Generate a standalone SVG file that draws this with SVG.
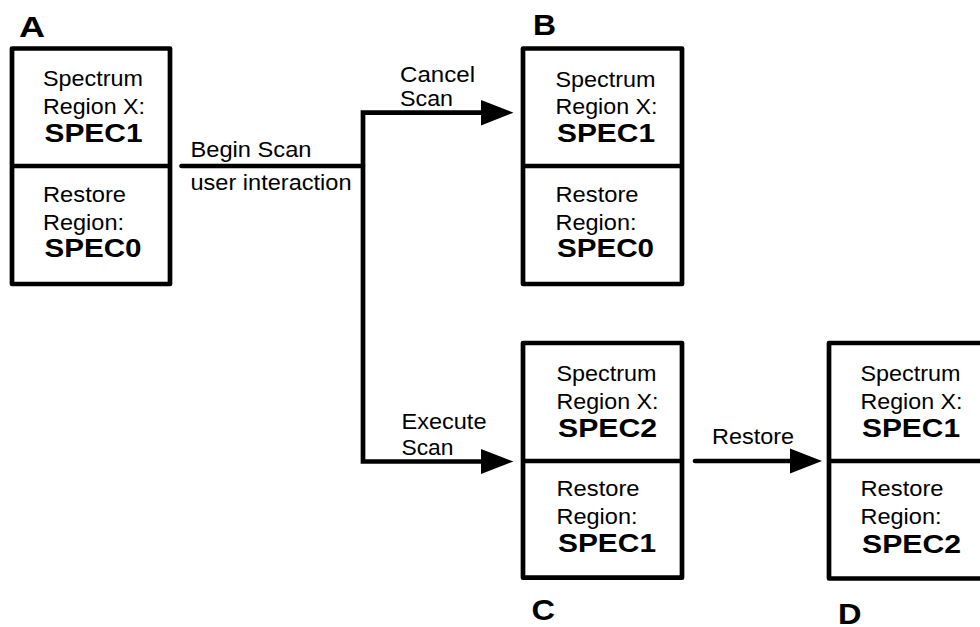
<svg xmlns="http://www.w3.org/2000/svg" width="980" height="627" viewBox="0 0 980 627">
<style>
.box{fill:#fff;stroke:#000;stroke-width:4.7;stroke-linejoin:round}
.div{stroke:#000;stroke-width:4.7}
.t{font-family:"Liberation Sans",Arial,Helvetica,sans-serif;font-size:22px;fill:#000}
.b{font-family:"Liberation Sans",Arial,Helvetica,sans-serif;font-size:25.5px;font-weight:bold;fill:#000}
.lbl{font-family:"Liberation Sans",Arial,Helvetica,sans-serif;font-size:30px;font-weight:bold;fill:#000}
.ln{fill:none;stroke:#000;stroke-width:4.7;stroke-linejoin:miter}
.ah{fill:#000}
</style>
<rect width="980" height="627" fill="#fff"/>
<g id="connectors">
<path class="ln" d="M181.5,166 H363" stroke-linecap="round"/>
<path class="ln" d="M484,112.7 H363 V461.5 H484"/>
<polygon class="ah" points="481,100 513.5,112.7 481,125.4"/>
<polygon class="ah" points="481,449 513.5,461.5 481,474"/>
<path class="ln" d="M695,461 H792" stroke-linecap="round"/>
<polygon class="ah" points="790,448.5 822,461 790,473.5"/>
<text class="t" x="190.5" y="157" textLength="121" lengthAdjust="spacingAndGlyphs">Begin Scan</text>
<text class="t" x="190.5" y="190" textLength="161" lengthAdjust="spacingAndGlyphs">user interaction</text>
<text class="t" x="400" y="82" textLength="75" lengthAdjust="spacingAndGlyphs">Cancel</text>
<text class="t" x="400" y="106" textLength="53" lengthAdjust="spacingAndGlyphs">Scan</text>
<text class="t" x="401.5" y="429" textLength="85" lengthAdjust="spacingAndGlyphs">Execute</text>
<text class="t" x="401.5" y="455" textLength="52" lengthAdjust="spacingAndGlyphs">Scan</text>
<text class="t" x="712" y="444" textLength="82" lengthAdjust="spacingAndGlyphs">Restore</text>
</g>
<g id="nodeA">
<rect class="box" x="12" y="48.5" width="158" height="235.5"/>
<line class="div" x1="12" y1="166" x2="170" y2="166"/>
<text class="lbl" x="19" y="36.5" textLength="26" lengthAdjust="spacingAndGlyphs">A</text>
<text class="t" x="43" y="86" textLength="100" lengthAdjust="spacingAndGlyphs">Spectrum</text>
<text class="t" x="43" y="113.5" textLength="102" lengthAdjust="spacingAndGlyphs">Region X:</text>
<text class="b" x="44.5" y="141.5" textLength="98" lengthAdjust="spacingAndGlyphs">SPEC1</text>
<text class="t" x="43" y="201.5" textLength="83" lengthAdjust="spacingAndGlyphs">Restore</text>
<text class="t" x="43" y="229.5" textLength="81" lengthAdjust="spacingAndGlyphs">Region:</text>
<text class="b" x="44.5" y="257" textLength="97" lengthAdjust="spacingAndGlyphs">SPEC0</text>
</g>
<g id="nodeB">
<rect class="box" x="523" y="48.5" width="159" height="235.5"/>
<line class="div" x1="523" y1="166" x2="682" y2="166"/>
<text class="lbl" x="533" y="35" textLength="23" lengthAdjust="spacingAndGlyphs">B</text>
<text class="t" x="555.5" y="86.5" textLength="100" lengthAdjust="spacingAndGlyphs">Spectrum</text>
<text class="t" x="555.5" y="114" textLength="102" lengthAdjust="spacingAndGlyphs">Region X:</text>
<text class="b" x="557" y="142" textLength="98" lengthAdjust="spacingAndGlyphs">SPEC1</text>
<text class="t" x="555.5" y="201.5" textLength="83" lengthAdjust="spacingAndGlyphs">Restore</text>
<text class="t" x="555.5" y="229.5" textLength="81" lengthAdjust="spacingAndGlyphs">Region:</text>
<text class="b" x="557" y="257" textLength="97" lengthAdjust="spacingAndGlyphs">SPEC0</text>
</g>
<g id="nodeC">
<rect class="box" x="523" y="343" width="159" height="234.7"/>
<line class="div" x1="523" y1="461" x2="682" y2="461"/>
<text class="lbl" x="531.5" y="620" textLength="23.5" lengthAdjust="spacingAndGlyphs">C</text>
<text class="t" x="556.5" y="380.5" textLength="100" lengthAdjust="spacingAndGlyphs">Spectrum</text>
<text class="t" x="556.5" y="408.5" textLength="102" lengthAdjust="spacingAndGlyphs">Region X:</text>
<text class="b" x="558" y="436.5" textLength="99" lengthAdjust="spacingAndGlyphs">SPEC2</text>
<text class="t" x="556.5" y="495.5" textLength="83" lengthAdjust="spacingAndGlyphs">Restore</text>
<text class="t" x="556.5" y="523.5" textLength="81" lengthAdjust="spacingAndGlyphs">Region:</text>
<text class="b" x="558" y="551.5" textLength="98" lengthAdjust="spacingAndGlyphs">SPEC1</text>
</g>
<g id="nodeD">
<rect class="box" x="829" y="343" width="165" height="235.5"/>
<line class="div" x1="829" y1="461" x2="994" y2="461"/>
<text class="lbl" x="838" y="624" textLength="23.5" lengthAdjust="spacingAndGlyphs">D</text>
<text class="t" x="860.5" y="381" textLength="100" lengthAdjust="spacingAndGlyphs">Spectrum</text>
<text class="t" x="860.5" y="408.5" textLength="102" lengthAdjust="spacingAndGlyphs">Region X:</text>
<text class="b" x="862" y="436.5" textLength="98" lengthAdjust="spacingAndGlyphs">SPEC1</text>
<text class="t" x="860.5" y="496" textLength="83" lengthAdjust="spacingAndGlyphs">Restore</text>
<text class="t" x="860.5" y="524" textLength="81" lengthAdjust="spacingAndGlyphs">Region:</text>
<text class="b" x="862" y="552.5" textLength="99" lengthAdjust="spacingAndGlyphs">SPEC2</text>
</g>
</svg>
